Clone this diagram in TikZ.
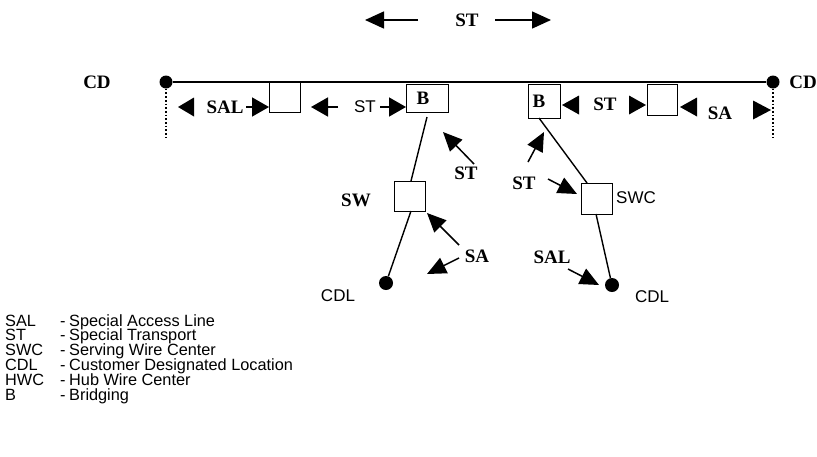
\documentclass[tikz,border=0pt]{standalone}
\usepackage{fontspec}
\setmainfont{Liberation Serif}
\newfontfamily\sansf{Liberation Sans}
\usetikzlibrary{arrows.meta}
\begin{document}
\begin{tikzpicture}[x=1pt,y=-1pt,
  box/.style={draw,line width=1.4pt,fill=white,inner sep=0pt,anchor=north west},
  lbl/.style={font=\bfseries\fontsize{19}{19}\selectfont,inner sep=0pt},
  slbl/.style={font=\sansf\fontsize{17}{17}\selectfont,inner sep=0pt},
  leg/.style={font=\sansf\fontsize{16.3}{16.3}\selectfont,inner sep=0pt,anchor=base west,text height=11pt,text depth=2.5pt},
  dot/.style={circle,fill,inner sep=0pt,minimum size=13pt},
  wire/.style={line width=1.4pt},
  arr/.style={line width=1.5pt,-{Triangle[length=19pt,width=17pt]}},
  harr/.style={line width=1.5pt,-{Triangle[length=17pt,width=19pt]}},
  tri/.style={fill=black}
]
\useasboundingbox (0,0) rectangle (817,456);

% top ST
\node[lbl] (sttop) at (467,20) {ST};
\coordinate (tl0) at (418,20); \coordinate (tl1) at (365,20);
\coordinate (tr0) at (495,20); \coordinate (tr1) at (551,20);
\draw[arr] (tl0) -- (tl1);
\draw[arr] (tr0) -- (tr1);

% main line
\node[dot] (dotL) at (166,82) {};
\node[dot] (dotR) at (773,82) {};
\draw[wire] (dotL) -- (dotR);
\node[lbl] (cdL) at (97,82) {CD};
\node[lbl] (cdR) at (803,82) {CD};
\coordinate (dL) at (166,137); \coordinate (dR) at (773,137);
\draw[dotted,line width=1.7pt] (dotL) -- (dL);
\draw[dotted,line width=1.7pt] (dotR) -- (dR);

% boxes on main line
\node[box,minimum width=31pt,minimum height=30pt] (box1) at (269,82) {};
\node[box,minimum width=42pt,minimum height=28pt] (b1) at (406,84) {};
\node[lbl] (b1t) at (423,98) {B};
\node[box,minimum width=32pt,minimum height=34pt] (b2) at (528,84) {};
\node[lbl] (b2t) at (539,101) {B};
\node[box,minimum width=30pt,minimum height=31pt] (boxR) at (647,84) {};

% main row arrows and labels
\fill[tri] (178,107) -- (194,97.5) -- (194,116.5) -- cycle;
\node[lbl] (sal1) at (225,107) {SAL};
\coordinate (s1a) at (246,107); \coordinate (s1b) at (269,107);
\draw[harr] (s1a) -- (s1b);
\coordinate (s2a) at (338,107); \coordinate (s2b) at (311,107);
\draw[harr] (s2a) -- (s2b);
\node[slbl] (st1) at (365,107) {ST};
\coordinate (s3a) at (380,107); \coordinate (s3b) at (406,107);
\draw[harr] (s3a) -- (s3b);
\fill[tri] (562,105) -- (579,95.5) -- (579,114.5) -- cycle;
\node[lbl] (st2) at (605,104) {ST};
\fill[tri] (646,105) -- (629,95.5) -- (629,114.5) -- cycle;
\fill[tri] (680,107) -- (697,97.5) -- (697,116.5) -- cycle;
\node[lbl] (sa1) at (720,113) {SA};
\fill[tri] (771,110) -- (753,100.5) -- (753,119.5) -- cycle;

% lower boxes
\node[box,minimum width=31pt,minimum height=30pt] (sw) at (394,181) {};
\node[lbl] (swt) at (356,200) {SW};
\node[box,minimum width=31pt,minimum height=31pt] (swc) at (581,183) {};
\node[slbl] (swct) at (636,198) {SWC};

\node[dot,minimum size=14pt] (cdl1) at (386,283) {};
\node[slbl] (cdl1t) at (338,296) {CDL};
\node[dot,minimum size=14pt] (cdl2) at (612,285) {};
\node[slbl] (cdl2t) at (652,297) {CDL};

% lower wires
\coordinate (w1a) at (427,117); \coordinate (w1b) at (411,181);
\draw[wire] (w1a) -- (w1b);
\coordinate (w2a) at (411,211);
\draw[wire] (w2a) -- (cdl1);
\coordinate (w3a) at (539,118); \coordinate (w3b) at (587,183);
\draw[wire] (w3a) -- (w3b);
\coordinate (w4a) at (596,214);
\draw[wire] (w4a) -- (cdl2);

% lower arrows
\node[lbl] (st3) at (466,173) {ST};
\coordinate (a1a) at (474,164); \coordinate (a1b) at (443,132);
\draw[arr] (a1a) -- (a1b);
\node[lbl] (sa2) at (477,256) {SA};
\coordinate (a2a) at (459,245); \coordinate (a2b) at (427,213);
\draw[arr] (a2a) -- (a2b);
\coordinate (a3a) at (459,258); \coordinate (a3b) at (427,274);
\draw[arr] (a3a) -- (a3b);
\node[lbl] (st4) at (524,183) {ST};
\coordinate (a4a) at (528,162); \coordinate (a4b) at (544,132);
\draw[arr] (a4a) -- (a4b);
\coordinate (a5a) at (548,179); \coordinate (a5b) at (577,194);
\draw[arr] (a5a) -- (a5b);
\node[lbl] (sal2) at (552,257) {SAL};
\coordinate (a6a) at (568,269); \coordinate (a6b) at (599,285);
\draw[arr] (a6a) -- (a6b);

% legend
\foreach \ab/\de [count=\i] in {SAL/Special Access Line,ST/Special Transport,SWC/Serving Wire Center,CDL/Customer Designated Location,HWC/Hub Wire Center,B/Bridging}{
  \node[leg] (lga\i) at (5,{326+14.8*(\i-1)}) {\ab};
  \node[leg] (lgh\i) at (60,{326+14.8*(\i-1)}) {-};
  \node[leg] (lgd\i) at (69,{326+14.8*(\i-1)}) {\de};
}
\end{tikzpicture}
\end{document}
